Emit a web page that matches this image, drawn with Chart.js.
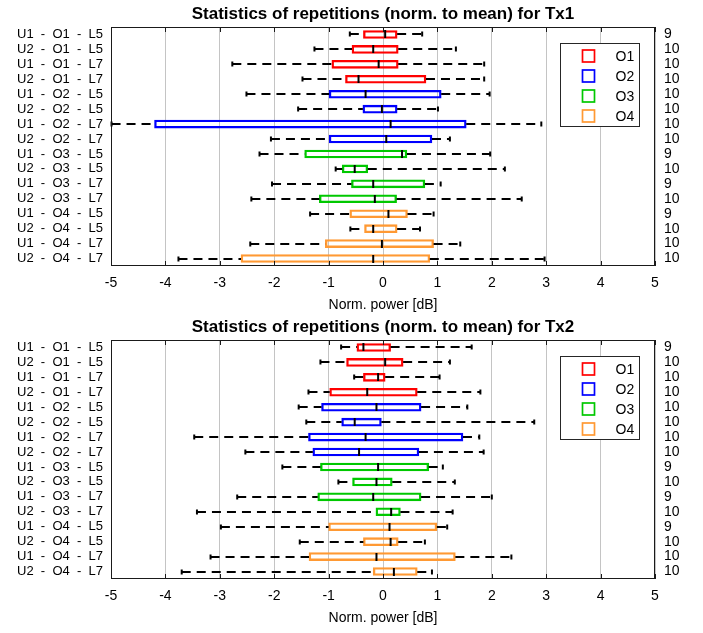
<!DOCTYPE html>
<html>
<head>
<meta charset="utf-8">
<script src="https://cdn.jsdelivr.net/npm/chart.js@4.4.0/dist/chart.umd.min.js"></script>
<style>
  html, body { margin: 0; padding: 0; background: #fff; }
  #wrap { position: relative; width: 703px; height: 633px; overflow: hidden; }
  canvas { position: absolute; left: 0; }
</style>
</head>
<body>
<div id="wrap">
  <canvas id="tx1" width="703" height="312" style="top:0"></canvas>
  <canvas id="tx2" width="703" height="312" style="top:313px"></canvas>
</div>
<script>
'use strict';

// ── Data ─────────────────────────────────────────────────────────────────────
const categories = [
  'U1 - O1 - L5', 'U2 - O1 - L5', 'U1 - O1 - L7', 'U2 - O1 - L7',
  'U1 - O2 - L5', 'U2 - O2 - L5', 'U1 - O2 - L7', 'U2 - O2 - L7',
  'U1 - O3 - L5', 'U2 - O3 - L5', 'U1 - O3 - L7', 'U2 - O3 - L7',
  'U1 - O4 - L5', 'U2 - O4 - L5', 'U1 - O4 - L7', 'U2 - O4 - L7'
];
const groups = ['O1', 'O2', 'O3', 'O4'];
const groupColors = ['#ff0000', '#0000ff', '#00c800', '#ff9933'];
const xTickValues = [-5, -4, -3, -2, -1, 0, 1, 2, 3, 4, 5];

// Tx1
const lowTx1  = [-0.61, -1.26, -2.77, -1.48, -2.51, -1.56, -4.99, -2.06, -2.27, -0.87, -2.04, -2.42, -1.34, -0.60, -2.44, -3.76];
const q1Tx1   = [-0.36, -0.57, -0.94, -0.69, -0.99, -0.37, -4.20, -0.99, -1.44, -0.75, -0.58, -1.17, -0.61, -0.34, -1.06, -2.61];
const medTx1  = [0.04, -0.18, -0.08, -0.45, -0.32, -0.02, 0.14, 0.06, 0.35, -0.52, -0.18, -0.15, 0.10, -0.18, -0.02, -0.18];
const q3Tx1   = [0.26, 0.28, 0.28, 0.79, 1.07, 0.26, 1.53, 0.90, 0.44, -0.28, 0.77, 0.25, 0.45, 0.26, 0.93, 0.86];
const highTx1 = [0.72, 1.34, 1.86, 1.86, 1.96, 1.01, 2.91, 1.23, 1.97, 2.24, 1.06, 2.55, 0.93, 0.68, 1.42, 2.97];
const countTx1 = [9, 10, 10, 10, 10, 10, 10, 10, 9, 10, 9, 10, 9, 10, 10, 10];

// Tx2
const lowTx2  = [-0.77, -1.15, -0.53, -1.37, -1.55, -1.41, -3.47, -2.53, -1.85, -0.82, -2.68, -3.42, -2.98, -1.53, -3.17, -3.70];
const q1Tx2   = [-0.48, -0.67, -0.36, -0.98, -1.13, -0.76, -1.37, -1.29, -1.15, -0.56, -1.20, -0.13, -1.00, -0.36, -1.36, -0.18];
const medTx2  = [-0.36, 0.04, -0.09, -0.29, -0.12, -0.52, -0.32, -0.44, -0.09, -0.12, -0.18, 0.15, 0.12, 0.14, -0.12, 0.20];
const q3Tx2   = [0.14, 0.37, 0.04, 0.63, 0.70, -0.03, 1.47, 0.66, 0.84, 0.17, 0.70, 0.32, 0.99, 0.28, 1.33, 0.63];
const highTx2 = [1.63, 1.23, 1.04, 1.79, 1.55, 2.78, 1.77, 1.85, 1.10, 1.32, 2.00, 1.28, 1.18, 0.77, 2.36, 0.90];
const countTx2 = [9, 10, 10, 10, 10, 10, 10, 10, 9, 10, 9, 10, 9, 10, 10, 10];

// ── Helpers ──────────────────────────────────────────────────────────────────
const rowGroup = categories.map(c => groups.indexOf(c.split(' - ')[1]));
const BOX_H = 8;

function seg(ctx, x1, y1, x2, y2) {
  ctx.beginPath();
  ctx.moveTo(x1, y1);
  ctx.lineTo(x2, y2);
  ctx.stroke();
}

// whiskers, caps, medians, frame, inner ticks and legend
function boxParts(stats) {
  return {
    id: 'boxParts',
    afterDatasetsDraw(chart) {
      const { ctx, scales: { x, y } } = chart;
      ctx.save();
      ctx.strokeStyle = '#000';
      stats.low.forEach((lo, i) => {
        const py = Math.round(y.getPixelForValue(i));
        const xl = x.getPixelForValue(lo);
        const xq1 = x.getPixelForValue(stats.q1[i]);
        const xq3 = x.getPixelForValue(stats.q3[i]);
        const xh = x.getPixelForValue(stats.high[i]);
        const xm = x.getPixelForValue(stats.med[i]);
        ctx.lineWidth = 2;
        ctx.setLineDash([9, 6]);
        seg(ctx, xl, py, xq1, py);
        seg(ctx, xq3, py, xh, py);
        ctx.setLineDash([]);
        seg(ctx, xl, py - 2.5, xl, py + 2.5);
        seg(ctx, xh, py - 2.5, xh, py + 2.5);
        seg(ctx, xm, py - BOX_H / 2, xm, py + BOX_H / 2);
      });
      ctx.restore();
    },
    afterDraw(chart) {
      const { ctx, chartArea: a, scales: { x } } = chart;
      ctx.save();
      // frame
      ctx.strokeStyle = '#1a1a1a';
      ctx.lineWidth = 1;
      ctx.strokeRect(Math.round(a.left) + 0.5, Math.round(a.top) + 0.5,
                     Math.round(a.right - a.left) - 1, Math.round(a.bottom - a.top) - 1);
      // inner ticks
      xTickValues.forEach(v => {
        const px = Math.round(x.getPixelForValue(v)) + 0.5;
        seg(ctx, px, a.bottom, px, a.bottom - 5);
        seg(ctx, px, a.top, px, a.top + 5);
      });
      // legend
      const lw = 79, lh = 83;
      const lx = Math.round(a.right - 16 - lw) + 0.5;
      const ly = Math.round(a.top + 16) + 0.5;
      ctx.fillStyle = '#fff';
      ctx.fillRect(lx, ly, lw, lh);
      ctx.strokeStyle = '#262626';
      ctx.strokeRect(lx, ly, lw, lh);
      ctx.font = '14px "Liberation Sans", Arial, sans-serif';
      ctx.textBaseline = 'middle';
      ctx.textAlign = 'left';
      groups.forEach((g, k) => {
        const cy = ly + 12.5 + k * 20;
        ctx.strokeStyle = groupColors[k];
        ctx.lineWidth = 1.7;
        ctx.strokeRect(lx + 22, cy - 6, 12, 12);
        ctx.fillStyle = '#000';
        ctx.fillText(g, lx + 55, cy + 1);
      });
      ctx.restore();
    }
  };
}

function makeChart(id, title, stats, counts) {
  const datasets = groups.map((g, k) => ({
    label: g,
    data: categories.map((c, i) => rowGroup[i] === k ? [stats.q1[i], stats.q3[i]] : null),
    backgroundColor: 'rgba(0,0,0,0)',
    borderColor: groupColors[k],
    borderWidth: 1.7,
    borderSkipped: false,
    barThickness: BOX_H,
    grouped: false
  }));

  return new Chart(document.getElementById(id), {
    type: 'bar',
    data: { labels: categories, datasets },
    plugins: [boxParts(stats)],
    options: {
      indexAxis: 'y',
      responsive: false,
      animation: false,
      devicePixelRatio: 1,
      layout: { padding: 0 },
      scales: {
        x: {
          type: 'linear',
          min: -5,
          max: 5,
          afterBuildTicks: s => { s.ticks = xTickValues.map(v => ({ value: v })); },
          afterFit: s => { s.height = 46; },
          ticks: { color: '#000', font: { size: 14 }, padding: 9 },
          grid: { color: '#c4c4c4', lineWidth: 1, drawTicks: false },
          border: { display: false },
          title: {
            display: true,
            text: 'Norm. power [dB]',
            color: '#000',
            font: { size: 14, lineHeight: 1 },
            padding: 0
          }
        },
        y: {
          type: 'category',
          offset: true,
          afterFit: s => { s.width = 111; },
          ticks: {
            color: '#000',
            font: { size: 13 },
            padding: 8,
            autoSkip: false,
            callback: (v, i) => categories[i].replace(/ - /g, '  -  ')
          },
          grid: { display: false, drawTicks: false },
          border: { display: false }
        },
        y2: {
          type: 'category',
          position: 'right',
          labels: counts.map(String),
          offset: true,
          afterFit: s => { s.width = 48; },
          ticks: { color: '#000', font: { size: 14 }, padding: 9, autoSkip: false },
          grid: { display: false, drawTicks: false },
          border: { display: false }
        }
      },
      plugins: {
        legend: { display: false },
        tooltip: { enabled: false },
        title: {
          display: true,
          text: title,
          color: '#000',
          fullSize: false,
          font: { size: 17, weight: 'bold' },
          padding: { top: 4, bottom: 2.6 }
        }
      }
    }
  });
}

Chart.defaults.font.family = '"Liberation Sans", Arial, Helvetica, sans-serif';

makeChart('tx1', 'Statistics of repetitions (norm. to mean) for Tx1',
  { low: lowTx1, q1: q1Tx1, med: medTx1, q3: q3Tx1, high: highTx1 }, countTx1);
makeChart('tx2', 'Statistics of repetitions (norm. to mean) for Tx2',
  { low: lowTx2, q1: q1Tx2, med: medTx2, q3: q3Tx2, high: highTx2 }, countTx2);
</script>
</body>
</html>
